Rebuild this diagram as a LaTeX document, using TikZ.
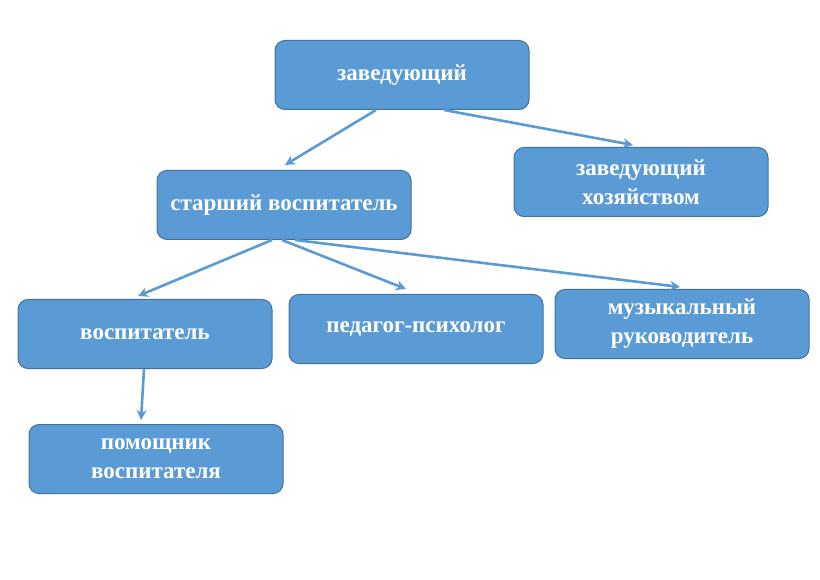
\documentclass[tikz,border=0pt]{standalone}
\usepackage{fontspec}
\setmainfont{Liberation Serif}
\usetikzlibrary{arrows.meta}
\definecolor{boxfill}{HTML}{5B9BD5}
\definecolor{boxline}{HTML}{41719C}
\tikzset{
    box/.style={draw=boxline, line width=1pt, fill=boxfill, rounded corners=10pt,
        minimum width=254pt, minimum height=69pt, text=white, align=center,
        font=\bfseries\fontsize{23}{29}\selectfont, inner sep=0pt},
    link/.style={draw=boxfill, line width=2.6pt, -{Stealth[length=10pt,width=10pt]}}
}
\begin{document}
\begin{tikzpicture}[x=1pt, y=-1pt]
        \useasboundingbox (0, 0) rectangle (820, 580);
        \node[box] (zav) at (402, 75) {заведующий};
        \node[box] (hoz) at (641, 182) {заведующий\\хозяйством};
        \node[box] (star) at (284, 205) {старший воспитатель};
        \node[box] (vos) at (145, 334) {воспитатель};
        \node[box] (ped) at (416, 329) {педагог-психолог};
        \node[box] (muz) at (682, 324) {музыкальный\\руководитель};
        \node[box] (pom) at (156, 459) {помощник\\воспитателя};
        \draw[link] ([xshift=-26pt]zav.south) -- ([xshift=1pt, yshift=5pt]star.north);
        \draw[link] ([xshift=42pt]zav.south) -- ([xshift=-8pt, yshift=2pt]hoz.north);
        \draw[link] ([xshift=-12pt]star.south) -- ([xshift=-7pt, yshift=3pt]vos.north);
        \draw[link] ([xshift=-2pt]star.south) -- ([xshift=-10pt, yshift=5pt]ped.north);
        \draw[link] ([xshift=11pt]star.south) -- ([xshift=-2pt, yshift=2pt]muz.north);
        \draw[link] ([xshift=-1pt]vos.south) -- ([xshift=-15pt, yshift=4pt]pom.north);
    \end{tikzpicture}
\end{document}
